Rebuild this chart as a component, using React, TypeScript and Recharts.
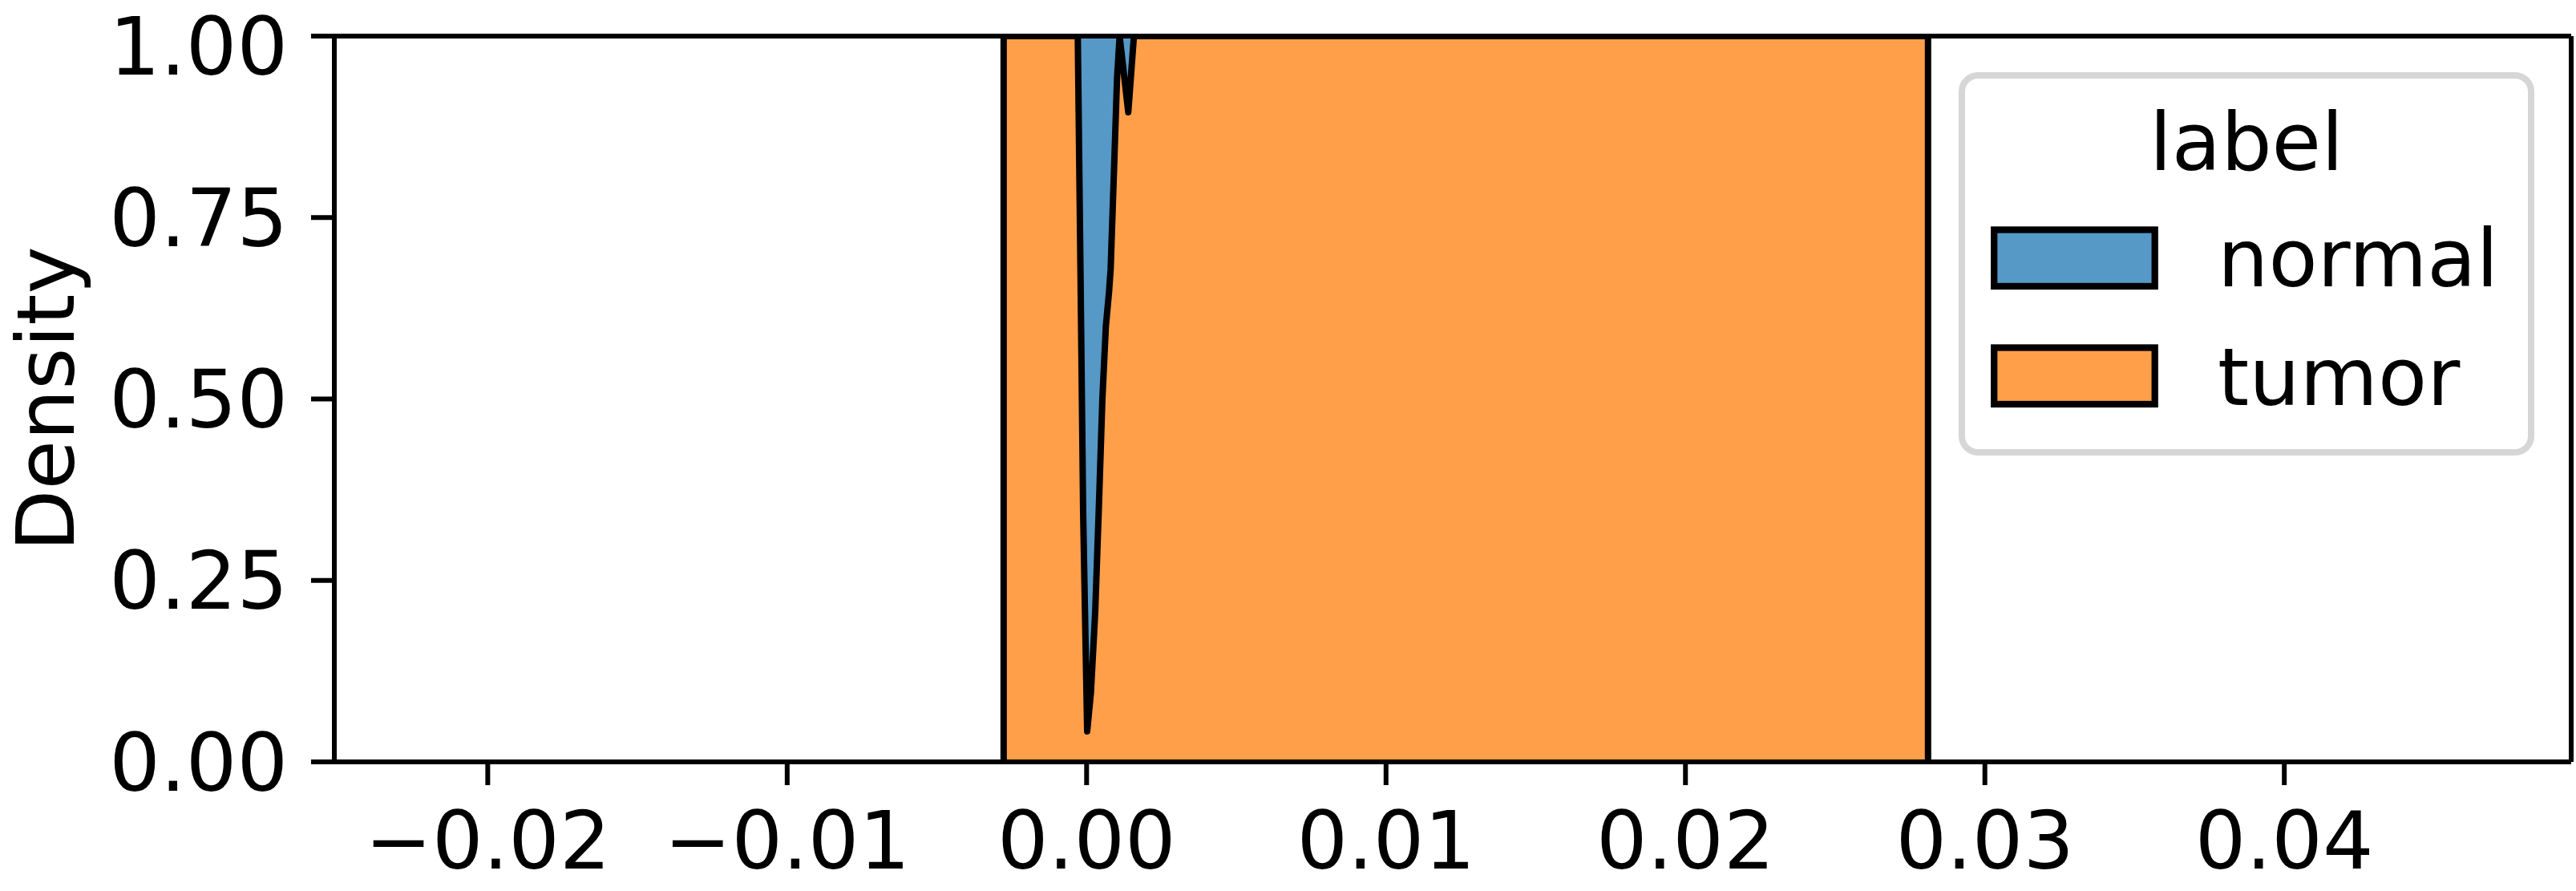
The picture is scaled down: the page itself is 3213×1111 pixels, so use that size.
import { ComposedChart, Area, Line, XAxis, YAxis, Legend, ReferenceLine } from 'recharts';

// KDE share per label (seaborn multiple="fill")
const xValues = [
  -0.002771, -0.002771, -0.000295, -0.000204, -0.000115, 0.000019, 0.000145, 0.000287, 0.000407, 0.000527,
  0.000643, 0.00075, 0.000803, 0.000929, 0.001017, 0.001103, 0.001392, 0.00158, 0.028101, 0.028101,
];
const tumorShare = [
  0, 1, 1, 0.674, 0.342, 0.042, 0.096, 0.206, 0.348, 0.5,
  0.6, 0.648, 0.679, 0.832, 0.942, 1, 0.895, 1, 1, 0,
];
const normalShare = [
  0, 0, 0, 0.326, 0.658, 0.958, 0.904, 0.794, 0.652, 0.5,
  0.4, 0.352, 0.321, 0.168, 0.058, 0, 0.105, 0, 0, 0,
];

const xTicks = [-0.02, -0.01, 0, 0.01, 0.02, 0.03, 0.04];
const yTicks = [0, 0.25, 0.5, 0.75, 1];
const xDomain: [number, number] = [-0.025124, 0.049581];

const labels = ['normal', 'tumor'];
const colors: Record<string, string> = { normal: '#5698C6', tumor: '#FF9F4A' };

const rows = xValues.map((x, i) => ({ x, tumor: tumorShare[i], normal: normalShare[i] }));

const FONT = 'DejaVu Sans, Verdana, sans-serif';
const fmt = (v: number) => v.toFixed(2).replace('-', '\u2212');

function DensityLabel(props: any) {
  const vb = props.viewBox || { x: 0, y: 45, height: 905 };
  const cx = vb.x + 92;
  const cy = vb.y + vb.height / 2;
  return (
    <text x={cx} y={cy} transform={`rotate(-90, ${cx}, ${cy})`} textAnchor="middle" fontSize={100} fontFamily={FONT} fill="#000">
      Density
    </text>
  );
}

function LegendBox() {
  return (
    <svg width={719} height={479} style={{ display: 'block' }}>
      <rect x={4} y={4} width={710} height={470} rx={20} fill="#fff" stroke="#d6d6d6" strokeWidth={8} />
      <text x={359} y={121.7} textAnchor="middle" fontSize={100} fontFamily={FONT} fill="#000">label</text>
      {labels.map((name, i) => (
        <g key={name}>
          <rect x={44.2} y={196.5 + i * 147} width={200.5} height={70.5} fill={colors[name]} stroke="#000" strokeWidth={8.3} />
          <text x={323} y={266.7 + i * 148.3} fontSize={100} fontFamily={FONT} fill="#000">{name}</text>
        </g>
      ))}
    </svg>
  );
}

export default function App() {
  const axisLine = { stroke: '#000', strokeWidth: 6 };
  const tick = { fill: '#000', fontSize: 100, fontFamily: FONT };
  return (
    <div style={{ position: 'absolute', left: 0, top: 0, background: '#fff' }}>
      <ComposedChart width={3213} height={1111} data={rows} margin={{ top: 45, right: 6, bottom: 0, left: 0 }}>
        <XAxis
          dataKey="x"
          type="number"
          domain={xDomain}
          allowDataOverflow
          ticks={xTicks}
          tickFormatter={fmt}
          height={161}
          tickSize={29}
          tickMargin={33}
          axisLine={axisLine}
          tickLine={axisLine}
          tick={tick}
        />
        <YAxis
          type="number"
          domain={[0, 1]}
          allowDataOverflow
          ticks={yTicks}
          tickFormatter={fmt}
          width={417}
          tickSize={29}
          tickMargin={29}
          axisLine={axisLine}
          tickLine={axisLine}
          tick={tick}
          label={<DensityLabel />}
        />
        <Area
          dataKey="tumor"
          stackId="share"
          type="linear"
          fill={colors.tumor}
          fillOpacity={1}
          stroke="none"
          isAnimationActive={false}
        />
        <Area
          dataKey="normal"
          stackId="share"
          type="linear"
          fill={colors.normal}
          fillOpacity={1}
          stroke="none"
          isAnimationActive={false}
        />
        <Line
          dataKey="tumor"
          type="linear"
          stroke="#000"
          strokeWidth={8}
          strokeLinejoin="round"
          strokeLinecap="round"
          dot={false}
          activeDot={false}
          legendType="none"
          isAnimationActive={false}
        />
        {/* top and right spines */}
        <ReferenceLine y={1} stroke="#000" strokeWidth={6} />
        <ReferenceLine x={xDomain[1]} stroke="#000" strokeWidth={6} />
        <Legend
          layout="vertical"
          align="center"
          verticalAlign="middle"
          content={() => <LegendBox />}
          wrapperStyle={{ left: 2442.7, top: 90, width: 719, height: 479 }}
        />
      </ComposedChart>
    </div>
  );
}
